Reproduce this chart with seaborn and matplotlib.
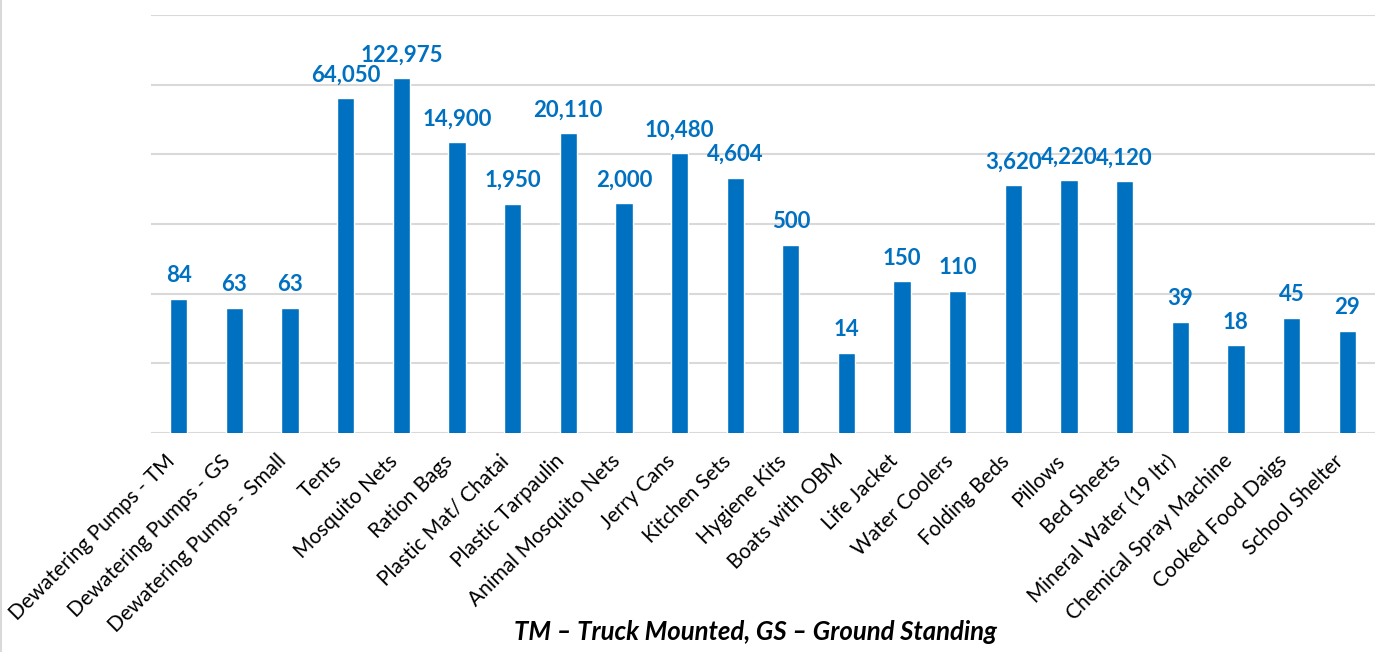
import matplotlib
matplotlib.use("Agg")
import matplotlib.pyplot as plt
import seaborn as sns
import pandas as pd
from matplotlib.lines import Line2D

categories = [
    "Dewatering Pumps - TM", "Dewatering Pumps - GS", "Dewatering Pumps - Small",
    "Tents", "Mosquito Nets", "Ration Bags", "Plastic Mat/ Chatai",
    "Plastic Tarpaulin", "Animal Mosquito Nets", "Jerry Cans", "Kitchen Sets",
    "Hygiene Kits", "Boats with OBM", "Life Jacket", "Water Coolers",
    "Folding Beds", "Pillows", "Bed Sheets", "Mineral Water (19 ltr)",
    "Chemical Spray Machine", "Cooked Food Daigs", "School Shelter",
]
values = [84, 63, 63, 64050, 122975, 14900, 1950, 20110, 2000, 10480, 4604,
          500, 14, 150, 110, 3620, 4220, 4120, 39, 18, 45, 29]
footnote = "TM \u2013 Truck Mounted, GS \u2013 Ground Standing"

BLUE = "#0070C0"
FONT = ["Lato", "DejaVu Sans"]

sns.set_theme(style="white")
plt.rcParams["font.family"] = FONT

df = pd.DataFrame({"item": categories, "qty": values})

fig = plt.figure(figsize=(13.81, 6.52), dpi=100)
ax = fig.add_axes([0.1093, 0.336, 0.8864, 0.641])

sns.barplot(data=df, x="item", y="qty", color=BLUE, saturation=1,
            width=0.31, ax=ax, order=categories)
ax.set_yscale("log")
ax.set_ylim(1, 1e6)
ax.set_xlim(-0.5, len(categories) - 0.5)

ax.set_yticks([1, 10, 100, 1e3, 1e4, 1e5, 1e6])
ax.yaxis.set_minor_locator(matplotlib.ticker.NullLocator())
ax.set_yticklabels([])
ax.tick_params(axis="y", length=0)
ax.grid(axis="y", color="#D9D9D9", linewidth=1.5)
ax.set_axisbelow(True)
for s in ax.spines.values():
    s.set_visible(False)

ax.set_xlabel("")
ax.set_ylabel("")
ax.set_xticks(range(len(categories)))
ax.set_xticklabels(categories, rotation=45, ha="right", va="top",
                   rotation_mode="default", fontsize=15, color="#000000")
ax.tick_params(axis="x", length=0, pad=13)

for i, v in enumerate(values):
    ax.annotate(f"{v:,}", xy=(i, v), xytext=(0, 12), textcoords="offset points",
                ha="center", va="baseline", fontsize=16, fontweight="bold",
                color=BLUE)

fig.text(0.547, 0.018, footnote, ha="center", va="baseline", fontsize=18.5,
         fontweight="bold", fontstyle="italic", color="#000000")

fig.add_artist(Line2D([0.0008, 0.0008], [0, 1], transform=fig.transFigure,
                      color="#D9D9D9", linewidth=1.5))

fig.savefig("out.png", dpi=100)
